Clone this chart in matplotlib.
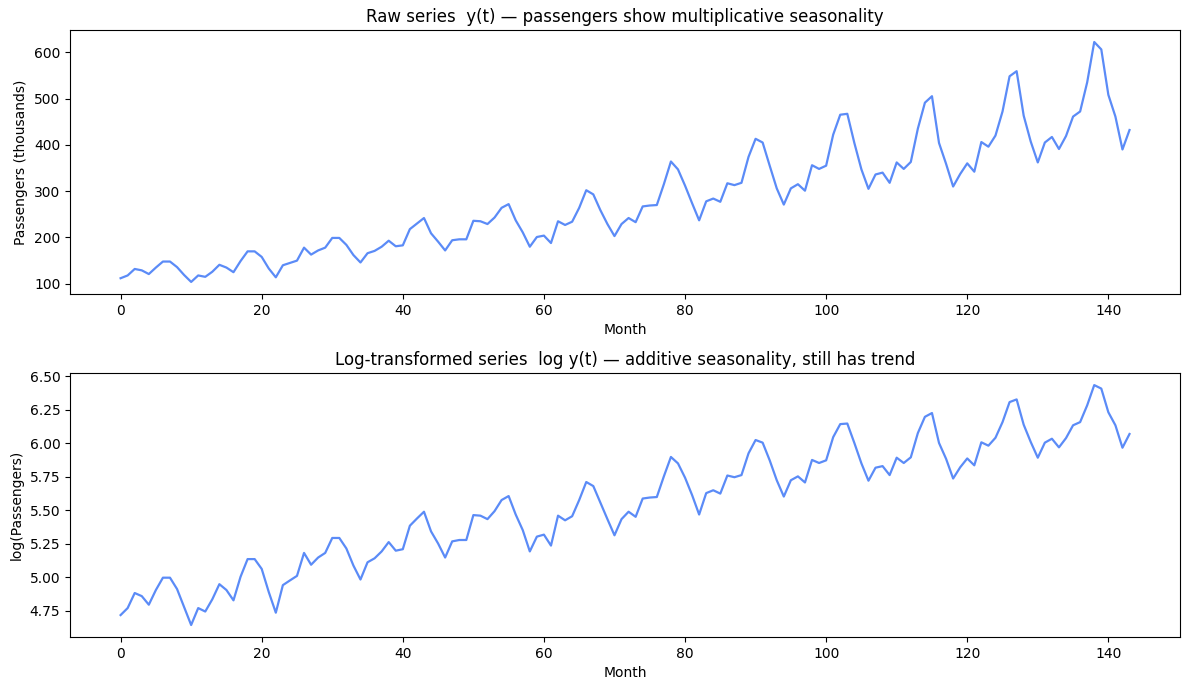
import numpy as np
import matplotlib
matplotlib.use("Agg")
import matplotlib.pyplot as plt

# monthly airline passengers (thousands), 1949-1960
passengers = [
    112, 118, 132, 129, 121, 135, 148, 148, 136, 119, 104, 118,
    115, 126, 141, 135, 125, 149, 170, 170, 158, 133, 114, 140,
    145, 150, 178, 163, 172, 178, 199, 199, 184, 162, 146, 166,
    171, 180, 193, 181, 183, 218, 230, 242, 209, 191, 172, 194,
    196, 196, 236, 235, 229, 243, 264, 272, 237, 211, 180, 201,
    204, 188, 235, 227, 234, 264, 302, 293, 259, 229, 203, 229,
    242, 233, 267, 269, 270, 315, 364, 347, 312, 274, 237, 278,
    284, 277, 317, 313, 318, 374, 413, 405, 355, 306, 271, 306,
    315, 301, 356, 348, 355, 422, 465, 467, 404, 347, 305, 336,
    340, 318, 362, 348, 363, 435, 491, 505, 404, 359, 310, 337,
    360, 342, 406, 396, 420, 472, 548, 559, 463, 407, 362, 405,
    417, 391, 419, 461, 472, 535, 622, 606, 508, 461, 390, 432,
]
months = np.arange(len(passengers))
y = np.array(passengers, dtype=float)
line_color = "#5b8bf7"

fig, (ax1, ax2) = plt.subplots(2, 1, figsize=(11.89, 6.9), dpi=100)

ax1.plot(months, y, color=line_color, lw=1.6)
ax1.set_title("Raw series  y(t) \u2014 passengers show multiplicative seasonality")
ax1.set_xlabel("Month")
ax1.set_ylabel("Passengers (thousands)")

ax2.plot(months, np.log(y), color=line_color, lw=1.6)
ax2.set_title("Log-transformed series  log y(t) \u2014 additive seasonality, still has trend")
ax2.set_xlabel("Month")
ax2.set_ylabel("log(Passengers)")

fig.subplots_adjust(left=0.059, right=0.9924, top=0.9565, bottom=0.0768, hspace=0.3)
plt.savefig("out.png")
